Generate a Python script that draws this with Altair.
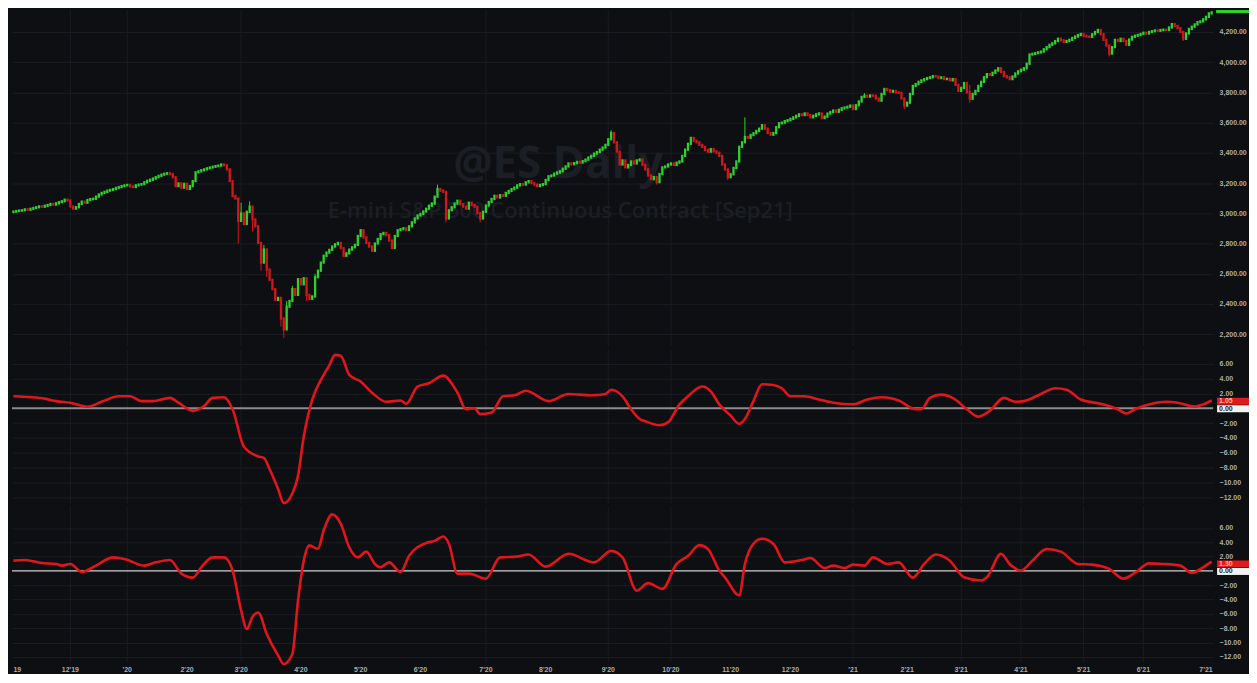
import altair as alt
import pandas as pd

# ---------------- data ----------------
closes = [
    3011, 3015, 3018, 3020, 3026, 3024, 3030, 3035, 3040, 3046,   # 0
    3044, 3050, 3055, 3062, 3058, 3066, 3074, 3080, 3090, 3085,   # 10
    3045, 3031, 3040, 3062, 3077, 3070, 3088, 3094, 3096, 3110,   # 20
    3125, 3135, 3142, 3150, 3155, 3160, 3168, 3174, 3180, 3185,   # 30
    3188, 3178, 3174, 3185, 3190, 3193, 3205, 3215, 3222, 3230,   # 40
    3239, 3248, 3256, 3262, 3265, 3260, 3239, 3180, 3198, 3170,   # 50
    3195, 3161, 3180, 3213, 3271, 3278, 3285, 3291, 3298, 3303,   # 60
    3308, 3312, 3316, 3323, 3318, 3291, 3213, 3115, 3098, 2950,   # 70
    2999, 2930, 3010, 3044, 2960, 2914, 2804, 2674, 2760, 2628,   # 80
    2560, 2498, 2427, 2440, 2304, 2232, 2382, 2420, 2498, 2460,   # 90
    2564, 2530, 2570, 2460, 2434, 2450, 2577, 2620, 2674, 2719,   # 100
    2740, 2758, 2780, 2795, 2804, 2770, 2719, 2735, 2760, 2775,   # 110
    2791, 2850, 2888, 2840, 2804, 2780, 2752, 2800, 2830, 2862,   # 120
    2870, 2856, 2820, 2771, 2850, 2888, 2895, 2901, 2890, 2914,   # 130
    2940, 2966, 2986, 2995, 3012, 3030, 3050, 3064, 3110, 3161,   # 140
    3150, 3142, 2966, 3020, 3040, 3064, 3083, 3060, 3045, 3031,   # 150
    3070, 3055, 3044, 3000, 2966, 3010, 3051, 3075, 3095, 3116,   # 160
    3105, 3120, 3116, 3135, 3148, 3160, 3170, 3185, 3193, 3190,   # 170
    3205, 3213, 3200, 3190, 3180, 3188, 3193, 3220, 3245, 3250,   # 180
    3262, 3270, 3278, 3295, 3310, 3330, 3325, 3332, 3340, 3336,   # 190
    3345, 3355, 3369, 3380, 3395, 3405, 3421, 3435, 3453, 3490,   # 200
    3531, 3470, 3408, 3323, 3350, 3304, 3320, 3343, 3330, 3350,   # 210
    3356, 3320, 3291, 3250, 3226, 3240, 3206, 3260, 3304, 3310,   # 220
    3323, 3330, 3320, 3335, 3343, 3380, 3421, 3460, 3499, 3480,   # 230
    3470, 3453, 3440, 3420, 3408, 3425, 3410, 3401, 3380, 3323,   # 240
    3290, 3239, 3258, 3300, 3343, 3440, 3470, 3505, 3500, 3518,   # 250
    3530, 3545, 3560, 3583, 3560, 3531, 3520, 3531, 3570, 3596,   # 260
    3600, 3610, 3616, 3625, 3635, 3645, 3655, 3650, 3661, 3650,   # 270
    3635, 3645, 3655, 3661, 3630, 3640, 3660, 3670, 3680, 3672,   # 280
    3685, 3695, 3700, 3705, 3713, 3690, 3715, 3740, 3770, 3778,   # 290
    3772, 3780, 3778, 3760, 3745, 3790, 3823, 3815, 3805, 3810,   # 300
    3800, 3797, 3760, 3713, 3732, 3790, 3843, 3855, 3870, 3880,   # 310
    3888, 3895, 3900, 3908, 3905, 3895, 3900, 3888, 3890, 3880,   # 320
    3888, 3850, 3810, 3830, 3862, 3800, 3758, 3790, 3810, 3843,   # 330
    3870, 3900, 3921, 3915, 3930, 3945, 3960, 3935, 3908, 3900,   # 340
    3888, 3905, 3925, 3940, 3950, 3960, 3990, 4051, 4055, 4060,   # 350
    4065, 4070, 4085, 4100, 4115, 4125, 4140, 4155, 4145, 4135,   # 360
    4140, 4148, 4160, 4170, 4180, 4187, 4175, 4170, 4168, 4185,   # 370
    4200, 4213, 4185, 4148, 4110, 4057, 4100, 4148, 4140, 4155,   # 380
    4140, 4115, 4150, 4168, 4175, 4180, 4187, 4195, 4190, 4200,   # 390
    4205, 4210, 4208, 4213, 4215, 4213, 4230, 4252, 4240, 4225,   # 400
    4200, 4155, 4190, 4220, 4235, 4250, 4265, 4270, 4284, 4300,   # 410
    4323, 4330,                                                   # 420
]
first_open = 3008

# visible wick extremes (bar index -> price)
wick_hi = {80: 3070, 83: 3080, 86: 2880, 88: 2790, 96: 2420, 98: 2520,
           106: 2600, 149: 3190, 210: 3550, 257: 3635, 299: 3795, 336: 3850}
wick_lo = {79: 2800, 84: 2880, 87: 2620, 89: 2580, 94: 2250, 95: 2174,
           103: 2420, 152: 2940, 164: 2940, 226: 3190, 251: 3220, 313: 3690,
           336: 3730, 385: 4038, 411: 4140}

# oscillator 1 (middle panel)
mid_idx = [0, 6, 11, 15, 20, 26, 31, 37, 41, 45, 49, 55, 58, 63, 67, 70, 74, 77, 81, 86,
           88, 90, 93, 95, 98, 100, 102, 105, 108, 111, 113, 115, 118, 122, 126, 131, 136, 138, 142, 146,
           151, 156, 159, 162, 164, 168, 172, 176, 180, 188, 195, 203, 208, 210, 214, 217, 220, 222, 227, 230,
           234, 237, 242, 245, 248, 252, 255, 257, 260, 263, 267, 270, 273, 278, 283, 288, 295, 300, 305, 311,
           317, 319, 322, 326, 330, 335, 339, 343, 348, 352, 355, 361, 366, 370, 375, 383, 388, 391, 394, 400,
           405, 409, 415, 418, 421]
mid_val = [1.62, 1.5, 1.3, 0.96, 0.75, 0.2, 0.87, 1.62, 1.62, 0.96, 0.96, 1.4, 0.75, -0.35, 0.3, 1.4, 1.49, -0.13, -5.2, -6.5,
           -6.7, -8.2, -10.9, -12.8, -11.5, -9.1, -3.85, 1.18, 3.8, 5.8, 7.2, 7.1, 4.5, 3.6, 2.1, 0.87, 1.05, 0.61, 2.93, 3.37,
           4.4, 2.1, -0.13, 0.0, -0.79, -0.57, 1.62, 1.75, 2.37, 0.96, 1.93, 1.75, 1.93, 2.5, 1.6, -0.13, -1.45, -1.75, -2.3, -1.9,
           0.52, 1.62, 2.93, 2.27, 0.52, -1.0, -2.1, -1.45, 0.96, 3.24, 3.15, 2.7, 1.62, 1.62, 1.18, 0.75, 0.52, 1.18, 1.49, 1.05,
           -0.13, -0.13, 1.4, 1.84, 1.4, -0.13, -1.14, -0.35, 1.4, 0.87, 0.96, 1.93, 2.7, 2.5, 1.18, 0.52, -0.13, -0.7, -0.13, 0.61,
           0.87, 0.75, 0.22, 0.52, 1.05]

# oscillator 2 (bottom panel)
bot_idx = [0, 4, 10, 15, 17, 20, 24, 29, 35, 39, 46, 50, 55, 59, 63, 66, 70, 74, 77, 80,
           82, 84, 86, 89, 93, 95, 98, 100, 102, 104, 107, 109, 112, 115, 118, 121, 124, 127, 129, 132,
           136, 139, 145, 148, 151, 153, 156, 160, 166, 171, 177, 181, 187, 195, 204, 210, 214, 219, 223, 228,
           233, 237, 241, 244, 248, 250, 255, 257, 260, 263, 267, 271, 277, 280, 285, 288, 292, 295, 299, 302,
           307, 311, 316, 320, 324, 329, 334, 340, 342, 347, 350, 354, 358, 363, 368, 374, 379, 385, 390, 394,
           399, 404, 410, 414, 418, 421]
bot_val = [1.44, 1.53, 1.1, 0.98, 0.75, 0.98, -0.14, 0.75, 1.9, 1.67, 0.75, 1.2, 1.53, -0.37, -0.93, 0.51, 1.9, 1.9, 0.09, -5.5,
           -8.1, -6.4, -5.8, -8.8, -11.8, -13.0, -11.6, -4.1, 1.44, 3.57, 3.1, 5.66, 7.9, 6.6, 3.3, 1.9, 2.7, 0.98, 0.51, 1.2,
           -0.14, 2.1, 3.9, 4.2, 4.8, 3.8, -0.37, -0.37, -1.07, 1.9, 2.0, 2.3, 0.6, 2.4, 1.2, 2.8, 1.9, -2.74, -1.7, -2.5,
           0.98, 2.1, 3.6, 3.07, 0.05, -0.9, -3.4, 0.98, 3.8, 4.5, 3.8, 1.2, 1.53, 1.8, 0.4, 0.75, 0.4, 0.88, 0.75, 1.9,
           0.98, 1.2, -0.93, 0.98, 2.3, 1.44, -0.88, -1.33, -0.88, 2.4, 0.98, 0.05, 1.44, 3.07, 2.7, 0.98, 0.88, 0.28, -1.07, -0.28,
           1.06, 0.98, 0.75, -0.28, 0.51, 1.3]

month_idx = [0, 20, 40, 61, 80, 101, 122, 143, 166, 187, 209, 231, 252, 273, 295, 314, 333, 354, 376, 397, 419]
month_lbl = ["19", "12'19", "'20", "2'20", "3'20", "4'20", "5'20", "6'20", "7'20", "8'20", "9'20",
             "10'20", "11'20", "12'20", "'21", "2'21", "3'21", "4'21", "5'21", "6'21", "7'21"]
grid_idx = [20, 40, 80, 166, 209, 231, 295, 333, 354, 376, 397]
price_ticks = [2200, 2400, 2600, 2800, 3000, 3200, 3400, 3600, 3800, 4000, 4200]
osc_ticks = [6, 4, 2, -2, -4, -6, -8, -10, -12]

title_main = "@ES Daily"
title_sub = "E-mini S&P 500 Continuous Contract [Sep21]"

# ---------------- styling ----------------
BG = "#0e0f12"
GRID = "#1a1d22"
GREEN = "#2fd12f"
RED = "#d3161c"
LINE_RED = "#e0161c"
LABEL = "#a9acb0"
WM = "#1b1e24"
W = 1205

rows = []
prev = first_open
for i, c in enumerate(closes):
    o = prev
    hi = max(o, c, wick_hi.get(i, c))
    lo = min(o, c, wick_lo.get(i, c))
    rows.append({"idx": i, "open": o, "close": c, "high": hi, "low": lo,
                 "dir": "up" if c >= o else "down"})
    prev = c
candles = pd.DataFrame(rows)
mid_df = pd.DataFrame({"idx": mid_idx, "v": mid_val})
bot_df = pd.DataFrame({"idx": bot_idx, "v": bot_val})
grid_df = pd.DataFrame({"idx": grid_idx})
months_df = pd.DataFrame({"idx": month_idx, "lbl": month_lbl})
one = pd.DataFrame({"a": [0]})

xs = alt.Scale(domain=[-0.5, 421.5], nice=False, zero=False)
col = alt.Color("dir:N", scale=alt.Scale(domain=["up", "down"], range=[GREEN, RED]), legend=None)

def yaxis(values, fmt):
    return alt.Axis(orient="right", values=values, format=fmt, grid=True, gridColor=GRID,
                    gridWidth=1, domain=False, ticks=False, labelPadding=6, labelFontSize=7,
                    labelColor=LABEL, labelFont="Liberation Sans", labelFontWeight="bold",
                    labelOverlap=False, labelBound=False, title=None)

vgrid = alt.Chart(grid_df).mark_rule(color=GRID, strokeWidth=1).encode(
    x=alt.X("idx:Q", scale=xs, axis=None))

# ---------------- top panel ----------------
ps = alt.Scale(domain=[2122, 4345], nice=False, zero=False)
pax = yaxis(price_ticks, ",.2f")
wm1 = alt.Chart(one).mark_text(text=title_main, font="Open Sans", fontSize=44, fontWeight="bold",
                               color=WM, align="center", baseline="alphabetic").encode(
    x=alt.value(548), y=alt.value(168))
wm2 = alt.Chart(one).mark_text(text=title_sub, font="Open Sans", fontSize=22, fontWeight=600,
                               color=WM, align="center", baseline="middle").encode(
    x=alt.value(550), y=alt.value(202))
wicks = alt.Chart(candles).mark_rule(strokeWidth=1).encode(
    x=alt.X("idx:Q", scale=xs, axis=None),
    y=alt.Y("low:Q", scale=ps, axis=pax),
    y2="high:Q", color=col)
bodies = alt.Chart(candles).mark_rule(strokeWidth=2.3, strokeCap="square").encode(
    x=alt.X("idx:Q", scale=xs, axis=None),
    y=alt.Y("open:Q", scale=ps, axis=pax), y2="close:Q", color=col)
gbox = alt.Chart(one).mark_rect(color=GREEN).encode(
    x=alt.value(W + 3), x2=alt.value(W + 36), y=alt.value(0), y2=alt.value(3))
top = alt.layer(wm1, wm2, vgrid, wicks, bodies, gbox).properties(width=W, height=337)

# ---------------- oscillator panels ----------------
def osc_panel(df, domain, height, zero_color, zero_width, with_months):
    ys = alt.Scale(domain=domain, nice=False, zero=False)
    oax = yaxis(osc_ticks, ".2f")
    zpx = domain[1] / (domain[1] - domain[0]) * height
    line = alt.Chart(df).mark_line(color=LINE_RED, strokeWidth=2.6, interpolate="monotone").encode(
        x=alt.X("idx:Q", scale=xs, axis=None),
        y=alt.Y("v:Q", scale=ys, axis=oax))
    zero = alt.Chart(pd.DataFrame({"v": [0]})).mark_rule(color=zero_color, strokeWidth=zero_width).encode(
        y=alt.Y("v:Q", scale=ys, axis=oax))
    rbox = alt.Chart(one).mark_rect(color="#e01a1a").encode(
        x=alt.value(W + 4), x2=alt.value(W + 36), y=alt.value(zpx - 10.5), y2=alt.value(zpx - 3.5))
    wbox = alt.Chart(one).mark_rect(color="#f2f2f2").encode(
        x=alt.value(W + 4), x2=alt.value(W + 36), y=alt.value(zpx - 3), y2=alt.value(zpx + 4))
    rtxt = alt.Chart(one).mark_text(text=f"{df['v'].iloc[-1]:.2f}", fontSize=7, font="Liberation Sans",
                                    fontWeight="bold", color="#f3b5b5", align="left", baseline="middle").encode(
        x=alt.value(W + 6), y=alt.value(zpx - 7))
    wtxt = alt.Chart(one).mark_text(text="0.00", fontSize=7, font="Liberation Sans",
                                    fontWeight="bold", color="#222222", align="left", baseline="middle").encode(
        x=alt.value(W + 6), y=alt.value(zpx + 0.5))
    layers = [vgrid, zero, line, rbox, wbox, rtxt, wtxt]
    if with_months:
        first = alt.Chart(months_df.iloc[:1]).mark_text(
            fontSize=7, font="Liberation Sans", fontWeight="bold", color=LABEL,
            align="left", baseline="middle").encode(
            x=alt.X("idx:Q", scale=xs, axis=None), y=alt.value(height + 8), text="lbl:N")
        rest = alt.Chart(months_df.iloc[1:]).mark_text(
            fontSize=7, font="Liberation Sans", fontWeight="bold", color=LABEL,
            align="center", baseline="middle").encode(
            x=alt.X("idx:Q", scale=xs, axis=None), y=alt.value(height + 8), text="lbl:N")
        layers += [first, rest]
    return alt.layer(*layers).properties(width=W, height=height)

mid = osc_panel(mid_df, [-12.85, 8.0], 155, "#8d8d8d", 2, False)
bot = osc_panel(bot_df, [-12.7, 9.0], 156, "#cfcfcf", 1.2, True)

chart = alt.vconcat(top, mid, bot, spacing=3, bounds="flush").properties(
    padding={"left": 0, "top": 0, "right": 0, "bottom": 0},
    background=BG,
).configure_view(strokeWidth=0, fill=BG)

chart.save("out.html", embed_options={"renderer": "svg", "actions": False})
